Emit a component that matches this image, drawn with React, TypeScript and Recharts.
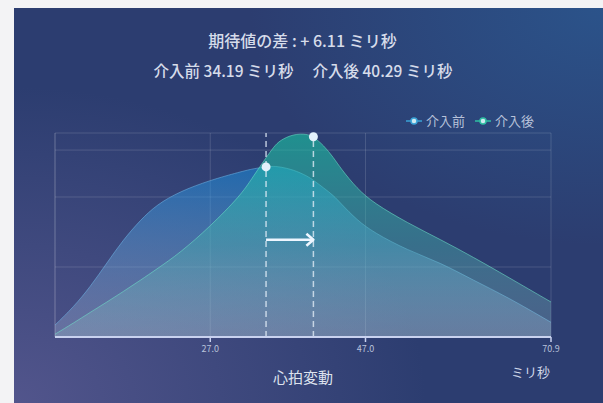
import React from 'react';
import {
  ComposedChart,
  Area,
  XAxis,
  YAxis,
  CartesianGrid,
  ReferenceLine,
  ReferenceDot,
  Legend,
} from 'recharts';

const hrv = [7, 9.4, 11.5, 13.7, 15.8, 18, 20.1, 23.1, 27, 30.9, 32.4, 33.5, 34.19, 35.2, 36, 37.7, 39.5, 40.29, 41.6, 42.9, 43.8, 45.9, 48.1, 52.4, 56.7, 60.9, 65.3, 70.9];
const before = [0.17, 0.43, 0.71, 1.06, 1.39, 1.67, 1.89, 2.08, 2.24, 2.36, 2.4, 2.42, 2.43, 2.44, 2.43, 2.39, 2.3, 2.24, 2.13, 2.02, 1.91, 1.67, 1.49, 1.24, 1.06, 0.81, 0.57, 0.21];
const after = [0.04, 0.2, 0.35, 0.5, 0.65, 0.81, 0.97, 1.2, 1.58, 2.02, 2.27, 2.45, 2.56, 2.72, 2.81, 2.9, 2.9, 2.86, 2.74, 2.56, 2.41, 2.12, 1.91, 1.63, 1.39, 1.14, 0.86, 0.5];
const xTicks = [27, 47, 70.9];
const yGrid = [0, 1, 2, 2.67, 2.914];
const seriesNames = ['介入前', '介入後'];
const meanBefore = 34.19;
const meanAfter = 40.29;
const meanDiff = 6.11;
const arrowLevel = 1.39;

const data = hrv.map((x, i) => ({ x, before: before[i], after: after[i] }));
const dotBefore = before[hrv.indexOf(meanBefore)];
const dotAfter = after[hrv.indexOf(meanAfter)];

const FONT = '"Noto Sans CJK JP", "Noto Sans", sans-serif';
const BLUE = '#3aa2d6';
const GREEN = '#2fbfa3';

const Arrow = (props: any) => {
  const { x1, y1, x2, y2 } = props;
  return (
    <g>
      <line x1={x1} y1={y1} x2={x2 - 1} y2={y2} stroke="#eef6ff" strokeWidth={2.5} />
      <path
        d={`M${x2 - 7},${y2 - 6} L${x2},${y2} L${x2 - 7},${y2 + 6}`}
        fill="none"
        stroke="#eef6ff"
        strokeWidth={2.5}
        strokeLinejoin="round"
      />
    </g>
  );
};

const LegendIcon = ({ color }: { color: string }) => (
  <svg width={16} height={10} style={{ marginRight: 4 }}>
    <line x1={0} y1={5} x2={16} y2={5} stroke={color} strokeWidth={1.5} />
    <circle cx={8} cy={5} r={3} fill="#cfe9f0" stroke={color} strokeWidth={1.5} />
  </svg>
);

const renderLegend = () => (
  <div style={{ display: 'flex', alignItems: 'center', fontFamily: FONT, fontSize: 13, color: '#b7c2da' }}>
    <LegendIcon color={BLUE} />
    <span style={{ marginRight: 10 }}>{seriesNames[0]}</span>
    <LegendIcon color={GREEN} />
    <span>{seriesNames[1]}</span>
  </div>
);

export default function App() {
  return (
    <div
      style={{
        position: 'absolute',
        left: 0,
        top: 0,
        width: 603,
        height: 403,
        background: '#f3f3f5',
        overflow: 'hidden',
      }}
    >
      <div
        style={{
          position: 'absolute',
          left: 14,
          top: 8,
          width: 589,
          height: 395,
          background:
            'radial-gradient(ellipse 70% 80% at 0% 100%, #52558c 0%, rgba(82,85,140,0) 100%), radial-gradient(ellipse 60% 60% at 100% 0%, #2b538a 0%, rgba(43,83,138,0) 100%), #2c3d70',
        }}
      >
        <div
          style={{
            position: 'absolute',
            left: 0,
            width: 577,
            top: 22,
            textAlign: 'center',
            fontFamily: FONT,
            fontSize: 16,
            fontWeight: 500,
            color: '#d6dcea',
            lineHeight: '20px',
          }}
        >
          {`期待値の差 : + ${meanDiff.toFixed(2)} ミリ秒`}
        </div>
        <div
          style={{
            position: 'absolute',
            left: 0,
            width: 578,
            top: 52,
            textAlign: 'center',
            fontFamily: FONT,
            fontSize: 15.5,
            fontWeight: 500,
            color: '#d6dcea',
            lineHeight: '20px',
            whiteSpace: 'pre',
          }}
        >
          {`${seriesNames[0]} ${meanBefore.toFixed(2)} ミリ秒　 ${seriesNames[1]} ${meanAfter.toFixed(2)} ミリ秒`}
        </div>
        <ComposedChart
          width={589}
          height={395}
          data={data}
          margin={{ top: 125, right: 52, left: 41, bottom: 36 }}
        >
          <defs>
            <linearGradient id="blueFill" x1="0" y1="0" x2="0" y2="1">
              <stop offset="0%" stopColor="#1590e2" stopOpacity={0.88} />
              <stop offset="100%" stopColor="#b8c8e4" stopOpacity={0.45} />
            </linearGradient>
            <linearGradient id="greenFill" x1="0" y1="0" x2="0" y2="1">
              <stop offset="0%" stopColor="#16cfa6" stopOpacity={0.95} />
              <stop offset="55%" stopColor="#48b4b0" stopOpacity={0.7} />
              <stop offset="100%" stopColor="#a4ccd4" stopOpacity={0.4} />
            </linearGradient>
          </defs>
          <CartesianGrid stroke="rgba(255,255,255,0.14)" strokeWidth={1} />
          <XAxis
            dataKey="x"
            type="number"
            domain={[7, 70.9]}
            ticks={xTicks}
            interval={0}
            tickFormatter={(v: number) => v.toFixed(1)}
            tick={{ fill: '#b9c2da', fontSize: 9, fontFamily: FONT }}
            tickSize={5}
            tickMargin={4}
            height={30}
            axisLine={{ stroke: '#c9d2ef', strokeWidth: 2 }}
            tickLine={{ stroke: '#c9d2ef', strokeWidth: 1.5 }}
            allowDataOverflow
          />
          <YAxis hide type="number" domain={[0, 2.914]} ticks={yGrid} interval={0} allowDataOverflow />
          <ReferenceLine x={7} stroke="rgba(255,255,255,0.14)" />
          <Area
            type="basis"
            dataKey="before"
            name={seriesNames[0]}
            stroke="rgba(110,180,230,0.55)"
            strokeWidth={1}
            fill="url(#blueFill)"
            isAnimationActive={false}
            dot={false}
            activeDot={false}
          />
          <Area
            type="basis"
            dataKey="after"
            name={seriesNames[1]}
            stroke="rgba(110,225,200,0.55)"
            strokeWidth={1}
            fill="url(#greenFill)"
            isAnimationActive={false}
            dot={false}
            activeDot={false}
          />
          <ReferenceLine x={meanBefore} stroke="rgba(225,236,246,0.78)" strokeWidth={1.5} strokeDasharray="6 4" />
          <ReferenceLine x={meanAfter} stroke="rgba(225,236,246,0.78)" strokeWidth={1.5} strokeDasharray="6 4" />
          <ReferenceLine
            segment={[
              { x: meanBefore, y: arrowLevel },
              { x: meanAfter, y: arrowLevel },
            ]}
            shape={Arrow}
          />
          <ReferenceDot x={meanBefore} y={dotBefore} r={4.5} fill="#e3f1fb" stroke="none" ifOverflow="visible" />
          <ReferenceDot x={meanAfter} y={dotAfter} r={4.5} fill="#e3f1fb" stroke="none" ifOverflow="visible" />
          <Legend
            layout="horizontal"
            verticalAlign="middle"
            align="center"
            content={renderLegend}
            wrapperStyle={{ position: 'absolute', top: 103, left: 392, width: 170, height: 20 }}
          />
        </ComposedChart>
        <div
          style={{
            position: 'absolute',
            left: 0,
            width: 578,
            top: 359,
            textAlign: 'center',
            fontFamily: FONT,
            fontSize: 15,
            color: '#dde2ee',
            lineHeight: '20px',
          }}
        >
          心拍変動
        </div>
        <div
          style={{
            position: 'absolute',
            left: 497,
            top: 355,
            fontFamily: FONT,
            fontSize: 13,
            color: '#d0d7e8',
            lineHeight: '18px',
          }}
        >
          ミリ秒
        </div>
      </div>
    </div>
  );
}
